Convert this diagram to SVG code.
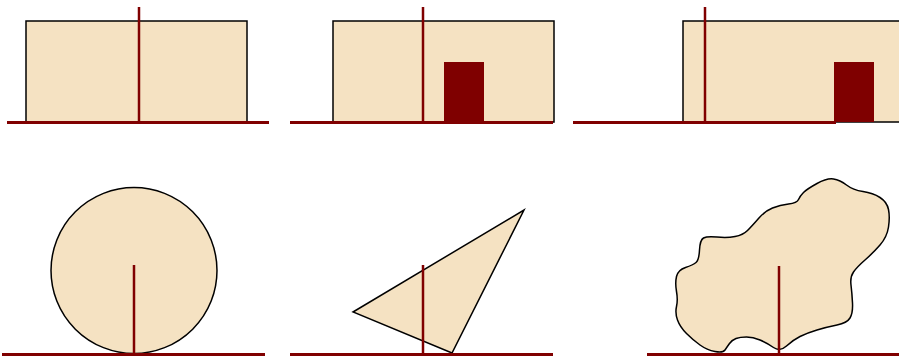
<svg xmlns="http://www.w3.org/2000/svg" width="899" height="358" viewBox="0 0 899 358">
<style>
.shape{fill:#f5e2c2;stroke:#000;stroke-width:1.5}
.ground{stroke:#800000;stroke-width:3;fill:none}
.axis{stroke:#800000;stroke-width:2.5;fill:none}
.weight{fill:#7f0000}
</style>
<rect width="899" height="358" fill="#fff"/>
<g id="panel1">
<rect class="shape" x="26" y="21" width="221" height="101"/>
<line class="ground" x1="7" y1="122.5" x2="269" y2="122.5"/>
<line class="axis" x1="139" y1="7" x2="139" y2="122"/>
</g>
<g id="panel2">
<rect class="shape" x="333" y="21" width="221" height="101"/>
<rect class="weight" x="444" y="62" width="40" height="60"/>
<line class="ground" x1="290" y1="122.5" x2="553" y2="122.5"/>
<line class="axis" x1="423" y1="7" x2="423" y2="122"/>
</g>
<g id="panel3">
<rect class="shape" x="683" y="21" width="240" height="101"/>
<rect class="weight" x="834" y="62" width="40" height="60"/>
<line class="ground" x1="573" y1="122.5" x2="836" y2="122.5"/>
<line class="axis" x1="705" y1="7" x2="705" y2="122"/>
</g>
<g id="panel4">
<circle class="shape" cx="134" cy="270.5" r="83"/>
<line class="ground" x1="2" y1="354.5" x2="265" y2="354.5"/>
<line class="axis" x1="134" y1="265" x2="134" y2="354"/>
</g>
<g id="panel5">
<polygon class="shape" points="353,312 524,210 452,353"/>
<line class="ground" x1="290" y1="354.5" x2="553" y2="354.5"/>
<line class="axis" x1="423" y1="265" x2="423" y2="354"/>
</g>
<g id="panel6">
<path class="shape" d="M725,350 Q723,353 715,351.5 Q707,350 700,345 Q693,340 686.5,333.5 Q680,327 677.5,320 Q675,313 676.5,306.5 Q678,300 676.5,291.5 Q675,283 676.5,276.5 Q678,270 685.5,267.5 Q693,265 696,262.5 Q699,260 699.5,250 Q700,240 703.5,238 Q707,236 717,237 Q727,238 735,236.5 Q743,235 747.5,230.5 Q752,226 758.5,218.5 Q765,211 772.5,208 Q780,205 788.5,204 Q797,203 798.5,199.5 Q800,196 803.5,192.5 Q807,189 817,183.5 Q827,178 833.5,179 Q840,180 846.5,185 Q853,190 863,191.5 Q873,193 880,197.5 Q887,202 888.5,209.5 Q890,217 888.5,227 Q887,237 880,245 Q873,253 865,260 Q857,267 853.5,272 Q850,277 851,285 Q852,293 852.5,303 Q853,313 850,318 Q847,323 837,325 Q827,327 817,330 Q807,333 800,336.5 Q793,340 786.5,346 Q780,352 773.5,347.5 Q767,343 760,340 Q753,337 746.5,337 Q740,337 736,338.5 Q732,340 729.5,343.5 Q727,347 725,350 Z"/>
<line class="ground" x1="647" y1="354.5" x2="899" y2="354.5"/>
<line class="axis" x1="779" y1="266" x2="779" y2="354"/>
</g>
</svg>
